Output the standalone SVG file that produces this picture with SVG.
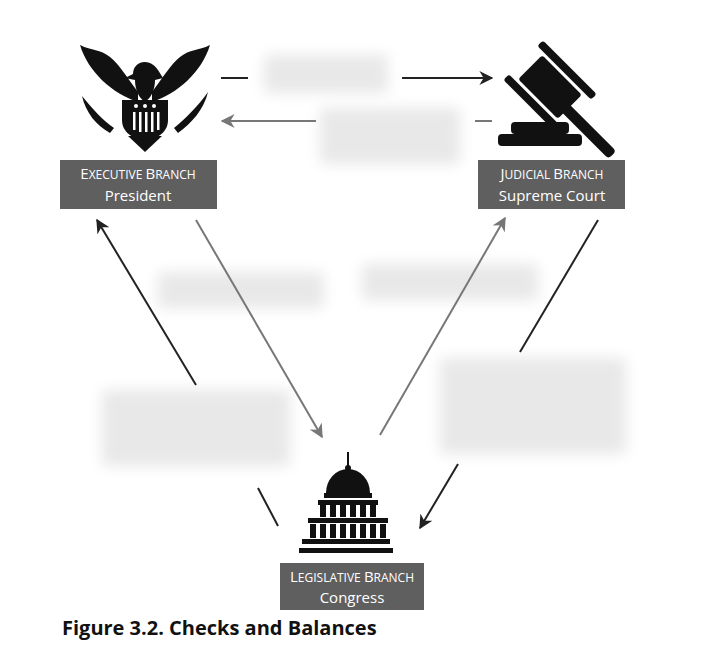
<svg xmlns="http://www.w3.org/2000/svg" width="720" height="652" viewBox="0 0 720 652">
<style>
.lbl{fill:#5f5f5f}
.lt{font-family:"Open Sans","Liberation Sans",sans-serif;fill:#fff;text-anchor:middle}
.sc{font-size:15px}.sm{font-size:12px}
.ln{stroke:#222;stroke-width:2;fill:none}
.lg{stroke:#777;stroke-width:2;fill:none}
.bl{fill:#e8e8e8;filter:url(#b)}
</style>
<defs>
<filter id="b" x="-20%" y="-40%" width="140%" height="180%"><feGaussianBlur stdDeviation="7"/></filter>
<marker id="ak" viewBox="0 0 10 10" refX="9" refY="5" markerWidth="7" markerHeight="7" orient="auto"><path d="M0,0L10,5L0,10L3,5z" fill="#222"/></marker>
<marker id="ag" viewBox="0 0 10 10" refX="9" refY="5" markerWidth="7" markerHeight="7" orient="auto"><path d="M0,0L10,5L0,10L3,5z" fill="#777"/></marker>
</defs>
<rect width="720" height="652" fill="#fff"/>
<g id="blurs">
<rect class="bl" x="264" y="55" width="124" height="38"/>
<rect class="bl" x="320" y="108" width="140" height="56"/>
<rect class="bl" x="158" y="272" width="166" height="36"/>
<rect class="bl" x="362" y="264" width="176" height="36"/>
<rect class="bl" x="102" y="390" width="188" height="76"/>
<rect class="bl" x="440" y="358" width="186" height="96"/>
</g>
<g id="connectors">
<line class="ln" x1="221" y1="78" x2="248" y2="78"/>
<line class="ln" x1="402" y1="78" x2="492" y2="78" marker-end="url(#ak)"/>
<line class="lg" x1="316" y1="121" x2="222" y2="121" marker-end="url(#ag)"/>
<line class="lg" x1="475" y1="121" x2="492" y2="121"/>
<line class="lg" x1="196" y1="220" x2="322" y2="437" marker-end="url(#ag)"/>
<line class="ln" x1="278" y1="526" x2="258" y2="488"/>
<line class="ln" x1="196" y1="385" x2="97" y2="220" marker-end="url(#ak)"/>
<line class="lg" x1="380" y1="435" x2="505" y2="218" marker-end="url(#ag)"/>
<line class="ln" x1="598" y1="220" x2="520" y2="352"/>
<line class="ln" x1="458" y1="464" x2="420" y2="528" marker-end="url(#ak)"/>
</g>
<g id="executive">
<g fill="#111">
<path d="M145,62c-8,0-12,6-12,12l-8,4l10,2c0,10,4,18,10,22c6-4,10-12,10-22l8,-2c-4-6-8-16-18-16z"/>
<path d="M138,102c-25-8-50-30-58-57c12,6,20,4,30,12c10,8,18,22,28,35z"/>
<path d="M152,102c25-8,50-30,58-57c-12,6-20,4-30,12c-10,8-18,22-28,35z"/>
<path d="M122,100h46v20c0,12-10,18-23,22c-13-4-23-10-23-22z"/>
<path d="M128,136l17,16l17-16z"/>
<path d="M82,96c10,12,20,24,32,32l-4,5c-14-8-24-20-28-37z"/>
<path d="M208,92c-10,14-22,26-34,36l4,5c14-10,26-24,30-41z"/>
</g>
<g fill="#fff"><circle cx="136" cy="106" r="2"/><circle cx="145" cy="106" r="2"/><circle cx="154" cy="106" r="2"/>
<rect x="133" y="112" width="2.5" height="18"/><rect x="139" y="112" width="2.5" height="20"/><rect x="145" y="112" width="2.5" height="20"/><rect x="151" y="112" width="2.5" height="20"/><rect x="157" y="112" width="2.5" height="18"/></g>
<rect class="lbl" x="60" y="160" width="157" height="49"/>
<text class="lt" x="138" y="179"><tspan class="sc">E</tspan><tspan class="sm">XECUTIVE </tspan><tspan class="sc">B</tspan><tspan class="sm">RANCH</tspan></text>
<text class="lt sc" x="138" y="201">President</text>
</g>
<g id="judicial">
<g fill="#111">
<rect x="522" y="70" width="56" height="34" transform="rotate(45 550 87)" rx="3"/>
<rect x="512" y="75" width="76" height="8" transform="rotate(45 550 87) translate(0,-16)" rx="3"/>
<rect x="512" y="75" width="76" height="8" transform="rotate(45 550 87) translate(0,32)" rx="3"/>
<rect x="560" y="103" width="72" height="11" transform="rotate(45 566 108)" rx="4"/>
<rect x="511" y="122" width="58" height="12" rx="4"/>
<rect x="498" y="134" width="84" height="12" rx="4"/>
</g>
<rect class="lbl" x="478" y="160" width="147" height="49"/>
<text class="lt" x="552" y="179"><tspan class="sc">J</tspan><tspan class="sm">UDICIAL </tspan><tspan class="sc">B</tspan><tspan class="sm">RANCH</tspan></text>
<text class="lt sc" x="552" y="201">Supreme Court</text>
</g>
<g id="legislative">
<g fill="#111">
<rect x="347" y="452" width="2" height="16"/>
<circle cx="348" cy="468" r="3"/>
<path d="M326,493a22,24 0 0 1 44,0z"/>
<rect x="324" y="493" width="48" height="5"/>
<rect x="318" y="500" width="60" height="5"/>
<rect x="308" y="518" width="80" height="5"/>
<rect x="302" y="539" width="88" height="5"/>
<rect x="299" y="548" width="94" height="5"/>
<rect x="320" y="505" width="6" height="12"/><rect x="330" y="505" width="6" height="12"/><rect x="340" y="505" width="6" height="12"/><rect x="350" y="505" width="6" height="12"/><rect x="360" y="505" width="6" height="12"/><rect x="370" y="505" width="6" height="12"/>
<rect x="310" y="524" width="6" height="14"/><rect x="320" y="524" width="6" height="14"/><rect x="330" y="524" width="6" height="14"/><rect x="340" y="524" width="6" height="14"/><rect x="350" y="524" width="6" height="14"/><rect x="360" y="524" width="6" height="14"/><rect x="370" y="524" width="6" height="14"/><rect x="380" y="524" width="6" height="14"/>
</g>
<rect class="lbl" x="280" y="563" width="144" height="47"/>
<text class="lt" x="352" y="582"><tspan class="sc">L</tspan><tspan class="sm">EGISLATIVE </tspan><tspan class="sc">B</tspan><tspan class="sm">RANCH</tspan></text>
<text class="lt sc" x="352" y="603">Congress</text>
</g>
<text x="62" y="635" font-family="'Open Sans','Liberation Sans',sans-serif" font-weight="bold" font-size="20" fill="#111">Figure 3.2. Checks and Balances</text>
</svg>
